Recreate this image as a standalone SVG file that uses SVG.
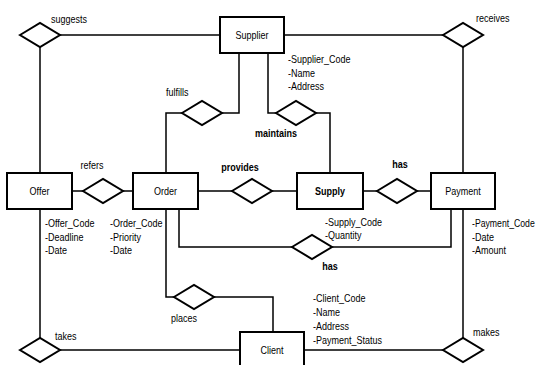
<svg xmlns="http://www.w3.org/2000/svg" width="536" height="365" viewBox="0 0 536 365">
<style>
text{font-family:"Liberation Sans",Arial,sans-serif;font-size:11px;fill:#000}
.c{text-anchor:middle}
.b{font-weight:bold}
.box{fill:#fff;stroke:#000;stroke-width:2}
.dia{fill:#fff;stroke:#000;stroke-width:2;stroke-linejoin:miter}
.ln{fill:none;stroke:#000;stroke-width:1.5}
</style>
<defs>
<polygon id="d" points="-20,0 0,-12 20,0 0,12"/>
</defs>
<rect width="536" height="365" fill="#fff"/>
<g id="connectors">
<path class="ln" d="M60,35H220"/>
<path class="ln" d="M284,35H443"/>
<path class="ln" d="M40,47V173"/>
<path class="ln" d="M463,47V173"/>
<path class="ln" d="M239,53V113H222"/>
<path class="ln" d="M182,113H166V173"/>
<path class="ln" d="M268,53V113H276"/>
<path class="ln" d="M316,113H330V173"/>
<path class="ln" d="M72,191H83M123,191H133"/>
<path class="ln" d="M198,191H232M272,191H297"/>
<path class="ln" d="M363,191H377M417,191H431"/>
<path class="ln" d="M179,209V247H292"/>
<path class="ln" d="M332,247H451V209"/>
<path class="ln" d="M166,209V297H174"/>
<path class="ln" d="M214,297H273V332"/>
<path class="ln" d="M40,209V338"/>
<path class="ln" d="M60,350H240"/>
<path class="ln" d="M463,209V338"/>
<path class="ln" d="M304,350H443"/>
</g>
<g id="supplier"><rect class="box" x="220" y="17" width="64" height="36"/><text class="c" transform="translate(252,39) scale(0.82,1)">Supplier</text>
<text transform="translate(288,63) scale(0.82,1)">-Supplier_Code</text><text transform="translate(288,77) scale(0.82,1)">-Name</text><text transform="translate(288,90) scale(0.82,1)">-Address</text></g>
<g id="offer"><rect class="box" x="7" y="173" width="65" height="36"/><text class="c" transform="translate(39.5,195) scale(0.82,1)">Offer</text>
<text transform="translate(45,227) scale(0.82,1)">-Offer_Code</text><text transform="translate(45,241) scale(0.82,1)">-Deadline</text><text transform="translate(45,254) scale(0.82,1)">-Date</text></g>
<g id="order"><rect class="box" x="133" y="173" width="65" height="36"/><text class="c" transform="translate(165.5,195) scale(0.82,1)">Order</text>
<text transform="translate(110,227) scale(0.82,1)">-Order_Code</text><text transform="translate(110,241) scale(0.82,1)">-Priority</text><text transform="translate(110,254) scale(0.82,1)">-Date</text></g>
<g id="supply"><rect class="box" x="297" y="173" width="66" height="36"/><text class="c b" transform="translate(330,195) scale(0.82,1)">Supply</text>
<text transform="translate(325,226) scale(0.82,1)">-Supply_Code</text><text transform="translate(325,239) scale(0.82,1)">-Quantity</text></g>
<g id="payment"><rect class="box" x="431" y="173" width="64" height="36"/><text class="c" transform="translate(463,195) scale(0.82,1)">Payment</text>
<text transform="translate(472,227) scale(0.79,1)">-Payment_Code</text><text transform="translate(472,241) scale(0.82,1)">-Date</text><text transform="translate(472,254) scale(0.82,1)">-Amount</text></g>
<g id="client"><rect class="box" x="240" y="332" width="64" height="40"/><text class="c" transform="translate(272,354) scale(0.82,1)">Client</text>
<text transform="translate(313,302) scale(0.82,1)">-Client_Code</text><text transform="translate(313,316) scale(0.82,1)">-Name</text><text transform="translate(313,330) scale(0.82,1)">-Address</text><text transform="translate(313,344) scale(0.82,1)">-Payment_Status</text></g>
<g id="suggests"><use href="#d" class="dia" x="40" y="35"/><text transform="translate(51,23) scale(0.82,1)">suggests</text></g>
<g id="receives"><use href="#d" class="dia" x="463" y="35"/><text transform="translate(476,22) scale(0.82,1)">receives</text></g>
<g id="fulfills"><use href="#d" class="dia" x="202" y="113"/><text transform="translate(166,96) scale(0.82,1)">fulfills</text></g>
<g id="maintains"><use href="#d" class="dia" x="296" y="113"/><text class="c b" transform="translate(276,137) scale(0.82,1)">maintains</text></g>
<g id="refers"><use href="#d" class="dia" x="103" y="191"/><text class="c" transform="translate(92,169) scale(0.82,1)">refers</text></g>
<g id="provides"><use href="#d" class="dia" x="252" y="191"/><text class="c b" transform="translate(240,171) scale(0.82,1)">provides</text></g>
<g id="has1"><use href="#d" class="dia" x="397" y="191"/><text class="c b" transform="translate(400,168) scale(0.82,1)">has</text></g>
<g id="has2"><use href="#d" class="dia" x="312" y="247"/><text class="c b" transform="translate(330,270) scale(0.82,1)">has</text></g>
<g id="places"><use href="#d" class="dia" x="194" y="297"/><text class="c" transform="translate(184,322) scale(0.82,1)">places</text></g>
<g id="takes"><use href="#d" class="dia" x="40" y="350"/><text transform="translate(55,340) scale(0.82,1)">takes</text></g>
<g id="makes"><use href="#d" class="dia" x="463" y="350"/><text transform="translate(473,336) scale(0.82,1)">makes</text></g>
</svg>
